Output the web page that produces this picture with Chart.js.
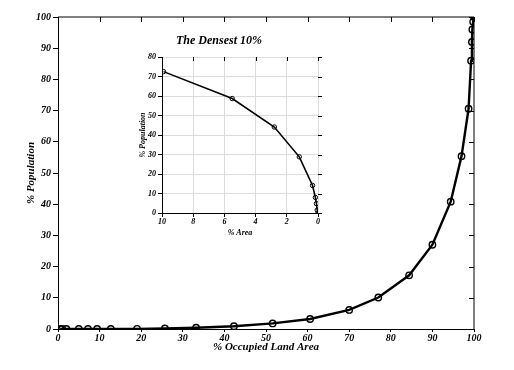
<!DOCTYPE html>
<html>
<head>
<meta charset="utf-8">
<script src="https://cdn.jsdelivr.net/npm/chart.js@4/dist/chart.umd.min.js"></script>
<style>
  body { margin: 0; background: #fff; }
  #wrap { position: relative; width: 514px; height: 370px; }
  #main { position: absolute; left: 0; top: 0; }
  #inset { position: absolute; left: 120px; top: 28px; }
</style>
</head>
<body>
<div id="wrap">
  <canvas id="main" width="514" height="370"></canvas>
  <canvas id="inset" width="210" height="218"></canvas>
</div>
<script>
// main curve: % occupied land area vs % population
const landArea = [0.5, 1, 2, 5, 7.2, 9.4, 12.7, 19, 25.7, 33.2, 42.3, 51.6, 60.6, 70, 77, 84.4, 90, 94.4, 97, 98.7, 99.3, 99.5, 99.6, 99.8, 100];
const population = [0, 0, 0, 0, 0, 0, 0, 0.05, 0.2, 0.4, 0.9, 1.8, 3.2, 6.1, 10.1, 17.2, 27, 40.8, 55.4, 70.6, 86, 92, 96, 98.5, 100];

// inset: densest 10% of area
const insetArea = [9.9, 5.5, 2.8, 1.2, 0.35, 0.17, 0.1, 0.05, 0];
const insetPop = [72.5, 58.7, 44.1, 28.8, 14.1, 8, 4.8, 1.5, 0];

Chart.defaults.font.family = "'Liberation Serif', 'DejaVu Serif', serif";
Chart.defaults.font.style = "italic";
Chart.defaults.font.weight = "bold";
Chart.defaults.color = "#000";

// ticks on the top and right borders
const innerTicks = {
  id: "innerTicks",
  afterDraw(chart, args, opts) {
    const ctx = chart.ctx;
    const a = chart.chartArea;
    const xs = chart.scales.x, ys = chart.scales.y;
    ctx.save();
    ctx.strokeStyle = "#000";
    ctx.lineWidth = 1;
    if (opts.box) {
      ctx.beginPath();
      ctx.moveTo(a.left, a.top);
      ctx.lineTo(a.right, a.top);
      ctx.lineTo(a.right, a.bottom);
      ctx.stroke();
    }
    const len = opts.len || 5;
    ctx.beginPath();
    xs.ticks.forEach(t => {
      const px = Math.round(xs.getPixelForValue(t.value)) + 0.5;
      ctx.moveTo(px, a.top);
      ctx.lineTo(px, a.top + len);
    });
    ys.ticks.forEach(t => {
      const py = Math.round(ys.getPixelForValue(t.value)) + 0.5;
      ctx.moveTo(a.right, py);
      ctx.lineTo(opts.outRight ? a.right + len : a.right - len, py);
    });
    ctx.stroke();
    ctx.restore();
  }
};

const mainChart = new Chart(document.getElementById("main").getContext("2d"), {
  type: "line",
  data: {
    datasets: [{
      data: landArea.map((x, i) => ({ x: x, y: population[i] })),
      borderColor: "#000",
      borderWidth: 2.4,
      pointRadius: 3.2,
      pointBorderWidth: 1.4,
      pointBackgroundColor: "rgba(0,0,0,0)",
      pointBorderColor: "#000",
      tension: 0
    }]
  },
  options: {
    responsive: false,
    animation: false,
    layout: { padding: { top: 17, right: 40, left: 0, bottom: 0 } },
    plugins: {
      legend: { display: false },
      tooltip: { enabled: false },
      innerTicks: { box: true, len: 5 }
    },
    scales: {
      x: {
        type: "linear",
        min: 0, max: 100,
        ticks: { stepSize: 10, padding: 0, font: { size: 10 }, maxRotation: 0 },
        grid: { drawOnChartArea: false, tickLength: 3, color: "#000" },
        border: { color: "#000", width: 1 },
        title: { display: true, text: "% Occupied Land Area", font: { size: 11 }, padding: { top: 0, bottom: 16 } },
        afterFit: s => { s.height = 41; }
      },
      y: {
        min: 0, max: 100,
        ticks: { stepSize: 10, padding: 2, font: { size: 10 } },
        grid: { drawOnChartArea: false, tickLength: 5, color: "#000" },
        border: { color: "#000", width: 1 },
        title: { display: true, text: "% Population", font: { size: 11 }, padding: { top: 25, bottom: 0 } },
        afterFit: s => { s.width = 58; }
      }
    }
  },
  plugins: [innerTicks]
});

const insetChart = new Chart(document.getElementById("inset").getContext("2d"), {
  type: "line",
  data: {
    datasets: [{
      data: insetArea.map((x, i) => ({ x: x, y: insetPop[i] })),
      borderColor: "#000",
      borderWidth: 1.6,
      pointRadius: 2.2,
      pointBorderWidth: 1,
      pointBackgroundColor: "rgba(0,0,0,0)",
      pointBorderColor: "#000",
      tension: 0
    }]
  },
  options: {
    responsive: false,
    animation: false,
    layout: { padding: { top: 0, right: 12, left: 0, bottom: 0 } },
    plugins: {
      legend: { display: false },
      tooltip: { enabled: false },
      title: {
        display: true,
        text: "The Densest 10%",
        font: { size: 12 },
        padding: { top: 6, bottom: 8.6 }
      },
      innerTicks: { box: false, len: 4, outRight: true }
    },
    scales: {
      x: {
        type: "linear",
        reverse: true,
        min: 0, max: 10,
        ticks: { stepSize: 2, padding: 0, font: { size: 8 }, maxRotation: 0 },
        grid: { color: "#dcdcdc", tickColor: "#000", tickLength: 4 },
        border: { color: "#000", width: 1 },
        title: { display: true, text: "% Area", font: { size: 8 }, padding: { top: 0, bottom: 8 } },
        afterFit: s => { s.height = 33; }
      },
      y: {
        min: 0, max: 80,
        ticks: { stepSize: 10, padding: 2, font: { size: 8 } },
        grid: { color: "#dcdcdc", tickColor: "#000", tickLength: 4 },
        border: { color: "#000", width: 1 },
        title: { display: true, text: "% Population", font: { size: 8 }, padding: { top: 18, bottom: 0 } },
        afterFit: s => { s.width = 42; }
      }
    }
  },
  plugins: [innerTicks]
});
</script>
</body>
</html>
